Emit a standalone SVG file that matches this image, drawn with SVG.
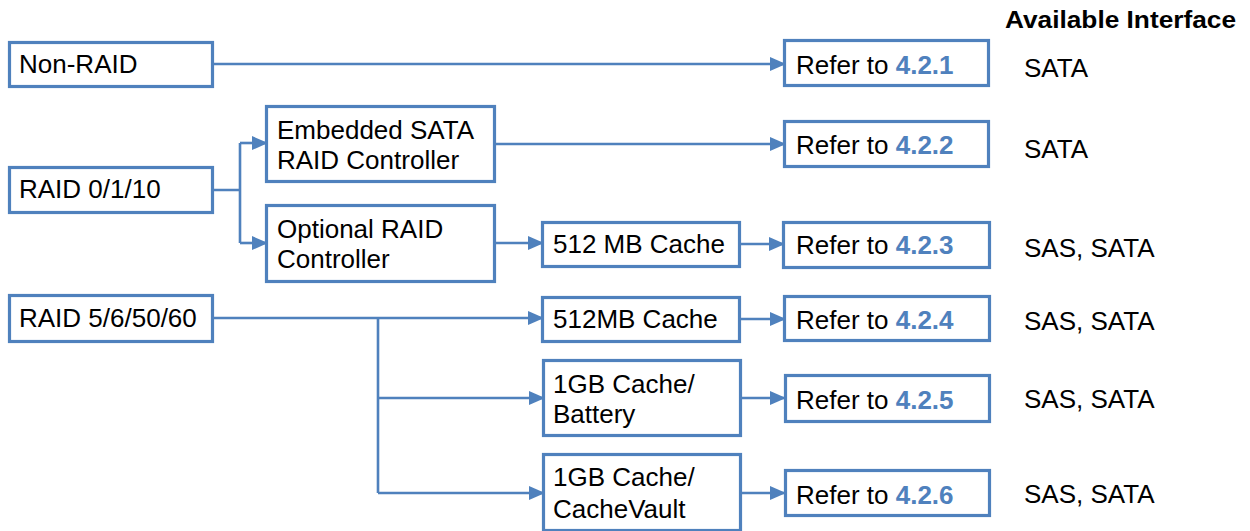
<svg xmlns="http://www.w3.org/2000/svg" width="1250" height="531" viewBox="0 0 1250 531">
<defs>
<marker id="ah" markerUnits="userSpaceOnUse" markerWidth="16" markerHeight="14" refX="15" refY="7" orient="auto">
<path d="M0,0 L16,7 L0,14 Z" fill="#4F81BD"/>
</marker>
<style>
.box{fill:#fff;stroke:#4F81BD;stroke-width:3.2}
.t{font-family:"Liberation Sans",Arial,sans-serif;font-size:26px;fill:#000}
.b{font-weight:bold;fill:#4F81BD}
.h{font-family:"Liberation Sans",Arial,sans-serif;font-size:23px;font-weight:bold;fill:#000}
.c{fill:none;stroke:#4F81BD;stroke-width:2.6}
.a{marker-end:url(#ah)}
</style>
</defs>
<rect width="1250" height="531" fill="#fff"/>
<g id="connectors">
<path class="c a" d="M213,64 H785"/>
<path class="c" d="M213,190 H240 M240,143 V243"/>
<path class="c a" d="M240,143 H267"/>
<path class="c a" d="M240,243 H267"/>
<path class="c a" d="M495,144 H785"/>
<path class="c a" d="M495,243 H543"/>
<path class="c a" d="M740,244 H784"/>
<path class="c" d="M213,318 H378 M378,318 V493"/>
<path class="c a" d="M378,318 H543"/>
<path class="c a" d="M378,398 H544"/>
<path class="c a" d="M378,493 H544"/>
<path class="c a" d="M740,319 H785"/>
<path class="c a" d="M741,398 H785"/>
<path class="c a" d="M741,493 H785"/>
</g>
<g id="non-raid"><rect class="box" x="9.5" y="42.5" width="203" height="44"/><text class="t" x="19" y="73">Non-RAID</text></g>
<g id="raid01"><rect class="box" x="9.5" y="167.5" width="203" height="45"/><text class="t" x="19" y="198">RAID 0/1/10</text></g>
<g id="raid56"><rect class="box" x="9.5" y="295.5" width="203" height="46"/><text class="t" x="19" y="327">RAID 5/6/50/60</text></g>
<g id="embedded"><rect class="box" x="266.5" y="106.5" width="228" height="75"/><text class="t" x="277" y="139">Embedded SATA</text><text class="t" x="277" y="169">RAID Controller</text></g>
<g id="optional"><rect class="box" x="266.5" y="205.5" width="228" height="76"/><text class="t" x="277" y="238">Optional RAID</text><text class="t" x="277" y="268">Controller</text></g>
<g id="cache512a"><rect class="box" x="542.5" y="222.5" width="197" height="44"/><text class="t" x="553" y="253">512 MB Cache</text></g>
<g id="cache512b"><rect class="box" x="542.5" y="297.5" width="197" height="44"/><text class="t" x="553" y="328">512MB Cache</text></g>
<g id="cache1gb-battery"><rect class="box" x="543.5" y="360.5" width="197" height="75"/><text class="t" x="553" y="393">1GB Cache/</text><text class="t" x="553" y="423">Battery</text></g>
<g id="cache1gb-vault"><rect class="box" x="543.5" y="454.5" width="197" height="76"/><text class="t" x="553" y="486">1GB Cache/</text><text class="t" x="553" y="518">CacheVault</text></g>
<g id="ref1"><rect class="box" x="784.5" y="40.5" width="204" height="45"/><text class="t" x="796" y="74">Refer to <tspan class="b">4.2.1</tspan></text></g>
<g id="ref2"><rect class="box" x="784.5" y="121.5" width="204" height="45"/><text class="t" x="796" y="154">Refer to <tspan class="b">4.2.2</tspan></text></g>
<g id="ref3"><rect class="box" x="783.5" y="222.5" width="206" height="45"/><text class="t" x="796" y="254">Refer to <tspan class="b">4.2.3</tspan></text></g>
<g id="ref4"><rect class="box" x="784.5" y="296.5" width="205" height="44"/><text class="t" x="796" y="329">Refer to <tspan class="b">4.2.4</tspan></text></g>
<g id="ref5"><rect class="box" x="785.5" y="375.5" width="204" height="46"/><text class="t" x="796" y="409">Refer to <tspan class="b">4.2.5</tspan></text></g>
<g id="ref6"><rect class="box" x="785.5" y="470.5" width="204" height="45"/><text class="t" x="796" y="504">Refer to <tspan class="b">4.2.6</tspan></text></g>
<g id="interfaces">
<text class="h" x="1005" y="28" textLength="231" lengthAdjust="spacingAndGlyphs">Available Interface</text>
<text class="t" x="1024" y="77">SATA</text>
<text class="t" x="1024" y="158">SATA</text>
<text class="t" x="1024" y="257">SAS, SATA</text>
<text class="t" x="1024" y="330">SAS, SATA</text>
<text class="t" x="1024" y="408">SAS, SATA</text>
<text class="t" x="1024" y="503">SAS, SATA</text>
</g>
</svg>
